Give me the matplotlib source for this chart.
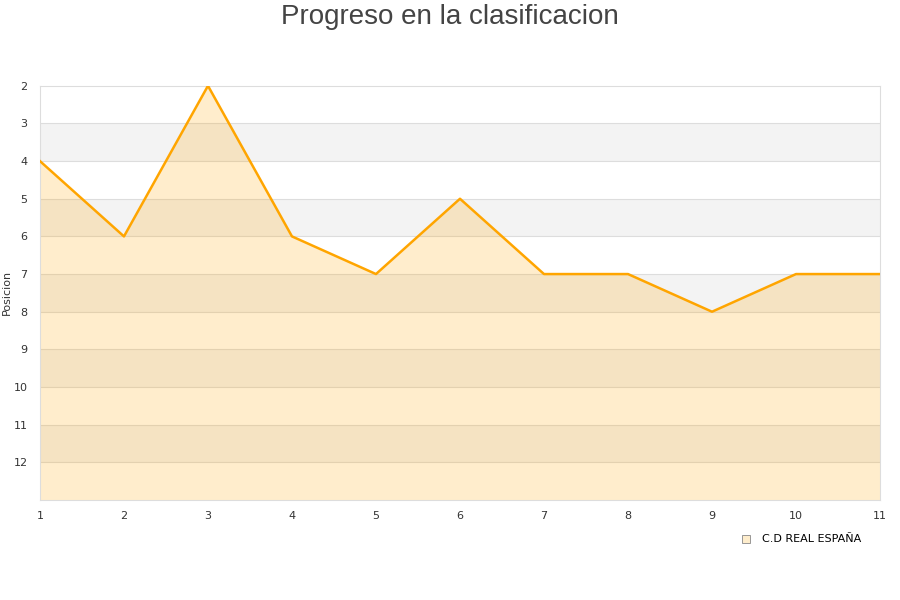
import matplotlib
matplotlib.use("Agg")
import matplotlib.pyplot as plt
from matplotlib.lines import Line2D

jornadas = [1, 2, 3, 4, 5, 6, 7, 8, 9, 10, 11]
posicion = [4, 6, 2, 6, 7, 5, 7, 7, 8, 7, 7]
equipo = "C.D REAL ESPAÑA"
y_ticks = list(range(2, 13))

fig = plt.figure(figsize=(9, 6), dpi=100)
ax = fig.add_axes([0.0444, 0.1667, 0.9334, 0.6903])

ymin, ymax = 2, 13
# alternating bands
for y in range(ymin, ymax):
    if (y - ymin) % 2 == 1:
        ax.axhspan(y, y + 1, color="#f3f3f3", zorder=0, lw=0)
for y in range(ymin + 1, ymax):
    ax.axhline(y, color="#dddddd", lw=0.8, zorder=1)

ax.fill_between(jornadas, posicion, ymax, color="#ffa500", alpha=0.2, lw=0, zorder=2)
ax.plot(jornadas, posicion, color="#ffa500", lw=1.8, zorder=3)

ax.set_xlim(1, 11)
ax.set_ylim(ymax, ymin)
ax.set_xticks(jornadas)
ax.set_yticks(y_ticks)
ax.tick_params(length=0, labelsize=8, colors="#333333")
ax.tick_params(axis="x", pad=8)
ax.tick_params(axis="y", pad=9)
for s in ax.spines.values():
    s.set_color("#dddddd")
ax.set_ylabel("Posicion", fontsize=8, color="#333333")
ax.yaxis.set_label_coords(-0.033, 0.5)

fig.suptitle("Progreso en la clasificacion", fontsize=20, color="#444444", y=0.993,
             family="Liberation Sans")

handle = Line2D([], [], marker="s", ls="none", markersize=6,
                markerfacecolor="#feedcc", markeredgecolor="#888888", markeredgewidth=0.6)
fig.legend([handle], [equipo], loc="center", bbox_to_anchor=(0.887, 0.101),
           frameon=False, fontsize=8, handletextpad=0.4)

fig.savefig("out.png", dpi=100)
